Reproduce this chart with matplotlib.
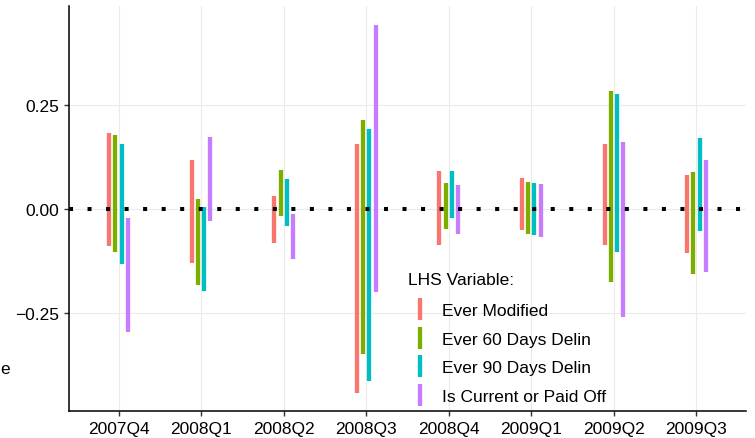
import numpy as np
import matplotlib
matplotlib.use("Agg")
import matplotlib.pyplot as plt
from matplotlib.lines import Line2D

plt.rcParams['font.family'] = ['Liberation Sans', 'DejaVu Sans']

# quarters on the x axis
quarters = ['2007Q4', '2008Q1', '2008Q2', '2008Q3', '2008Q4', '2009Q1', '2009Q2', '2009Q3']

# confidence bands (lower, upper)
modified_lo = [-0.088, -0.131, -0.083, -0.442, -0.087, -0.050, -0.087, -0.105]
modified_hi = [0.183, 0.117, 0.032, 0.157, 0.092, 0.075, 0.157, 0.082]

delin60_lo = [-0.103, -0.183, -0.018, -0.348, -0.049, -0.061, -0.175, -0.156]
delin60_hi = [0.177, 0.023, 0.094, 0.213, 0.062, 0.064, 0.283, 0.088]

delin90_lo = [-0.133, -0.198, -0.042, -0.415, -0.022, -0.063, -0.103, -0.054]
delin90_hi = [0.155, 0.005, 0.073, 0.192, 0.092, 0.063, 0.277, 0.171]

current_lo = [-0.296, -0.030, -0.121, -0.200, -0.060, -0.067, -0.261, -0.152]
current_hi = [-0.022, 0.173, -0.012, 0.443, 0.058, 0.059, 0.161, 0.118]

series_names = ['Ever Modified', 'Ever 60 Days Delin', 'Ever 90 Days Delin', 'Is Current or Paid Off']
series_colors = ['#F8766D', '#7CAE00', '#00BFC4', '#C77CFF']
lows = [modified_lo, delin60_lo, delin90_lo, current_lo]
highs = [modified_hi, delin60_hi, delin90_hi, current_hi]

DPI = 100
W, H = 755, 439
fig = plt.figure(figsize=(W / DPI, H / DPI), dpi=DPI)
ax = fig.add_axes([69 / W, (H - 412) / H, (746 - 69) / W, (412 - 7) / H])

x = np.arange(1, len(quarters) + 1)
dodge = 0.3
n = len(series_names)
offsets = (np.arange(n) - (n - 1) / 2) * dodge / n

for i in range(n):
    ax.vlines(x + offsets[i], lows[i], highs[i], color=series_colors[i],
              linewidth=3.1, zorder=3, capstyle='butt')

# zero line, dotted
ax.axhline(0, color='black', linewidth=2.9, linestyle=(0, (1, 3.6)),
           dash_capstyle='butt', zorder=4)

ax.set_xlim(0.4, len(quarters) + 0.6)
ax.set_ylim(-0.486, 0.488)
ax.set_xticks(x)
ax.set_xticklabels(quarters)
ax.set_yticks([-0.25, 0.0, 0.25])
ax.set_yticklabels(['\u22120.25', '0.00', '0.25'])

ax.grid(True, color='#EBEBEB', linewidth=0.8, zorder=0)
ax.set_axisbelow(True)
for side in ['top', 'right']:
    ax.spines[side].set_visible(False)
for side in ['left', 'bottom']:
    ax.spines[side].set_linewidth(1.1)
    ax.spines[side].set_color('black')
ax.tick_params(axis='both', length=3.9, width=1.0, color='#333333',
               labelsize=12.5, labelcolor='black', pad=3.1)

# legend title drawn on its own, entries below it
fig.text(408 / W, 1 - 285 / H, 'LHS Variable:', fontsize=12.5, ha='left', va='baseline')
handles = [Line2D([], [], color=c, marker='|', markersize=16, markeredgewidth=3.1,
                  linestyle='None') for c in series_colors]
leg = ax.legend(handles, series_names, loc='upper left',
                bbox_to_anchor=(409.3 / W, 1 - 304 / H), bbox_transform=fig.transFigure,
                frameon=False, fontsize=12.5, handlelength=1.2, handletextpad=0.69,
                labelspacing=0.77, borderpad=0, borderaxespad=0)

# partly cut-off label at the left edge
fig.text(0 / W, 1 - 370 / H, 'e', fontsize=12.5, ha='left', va='center')

fig.savefig('out.png', dpi=DPI)
